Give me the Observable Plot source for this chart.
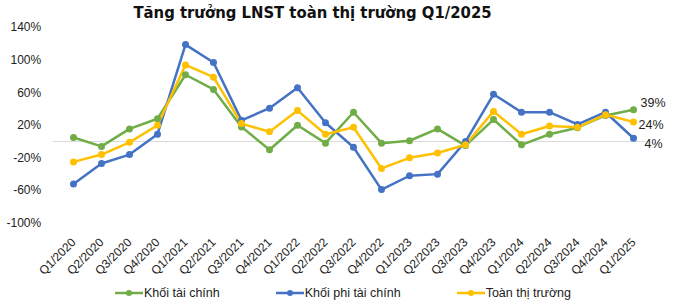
<!DOCTYPE html>
<html><head><meta charset="utf-8">
<script src="https://cdn.jsdelivr.net/npm/d3@7"></script>
<script src="https://cdn.jsdelivr.net/npm/@observablehq/plot@0.6"></script>
<style>
body{margin:0;background:#fff;}
#wrap{position:relative;width:680px;height:304px;overflow:hidden;font-family:"Liberation Sans",Arial,sans-serif;}
#chart{position:absolute;left:0;top:0;}
#title{position:absolute;left:0;top:0;width:625px;text-align:center;font-family:"DejaVu Sans Condensed","DejaVu Sans",sans-serif;font-weight:bold;font-size:16.5px;line-height:26px;color:#111;white-space:nowrap;}
#legend{position:absolute;top:284px;left:115px;display:flex;gap:56px;font-size:12.5px;line-height:18px;color:#222;}
#legend .item{display:flex;align-items:center;}
#legend svg{display:block;margin-right:1px;}
</style></head>
<body><div id="wrap"><div id="chart"></div><div id="title">Tăng trưởng LNST toàn thị trường Q1/2025</div><div id="legend"></div></div>
<script>
const quarters = ["Q1/2020","Q2/2020","Q3/2020","Q4/2020","Q1/2021","Q2/2021","Q3/2021","Q4/2021","Q1/2022","Q2/2022","Q3/2022","Q4/2022","Q1/2023","Q2/2023","Q3/2023","Q4/2023","Q1/2024","Q2/2024","Q3/2024","Q4/2024","Q1/2025"];
const seriesNames = ["Khối tài chính","Khối phi tài chính","Toàn thị trường"];
const seriesColors = ["#70AD47","#4472C4","#FFC000"];
const taiChinh = [5,-6,15.5,28,82,64,18,-10,20,-2,36,-2,1,15.5,-5,27,-4,9,17,32,39];
const phiTaiChinh = [-52,-27,-16,9,119,97,26,41,66,23,-7,-59,-42,-40,0,58,36,36,21,36,4];
const toanThiTruong = [-25,-16,-1,20,94,79,22,12,38,9,17.5,-33,-20,-14,-4,37,9,19,17.5,33,24];
const yTicks = [-100,-60,-20,20,60,100,140];

const seriesValues = [taiChinh, phiTaiChinh, toanThiTruong];
const rows = seriesNames.flatMap((name,i)=>quarters.map((q,j)=>({quarter:q, series:name, value:seriesValues[i][j]})));
const lastQ = quarters[quarters.length-1];
const lastOf = name => rows.filter(d=>d.quarter===lastQ && d.series===name);
const endLabel = (name, dx, dy) => Plot.text(lastOf(name), {x:"quarter", y:"value", text:d=>d.value+"%", textAnchor:"start", dx, dy, fontSize:12.5, fill:"#222", stroke:"white", strokeWidth:3, paintOrder:"stroke"});

const chart = Plot.plot({
  width:680, height:304,
  marginTop:27, marginBottom:81.5, marginLeft:52.7, marginRight:25.7,
  style:{fontFamily:"Liberation Sans, Arial, sans-serif", fontSize:"12px", color:"#222", background:"transparent"},
  x:{type:"point", domain:quarters, padding:0.5, axis:null},
  y:{domain:[-100,140], axis:null},
  color:{domain:seriesNames, range:seriesColors},
  marks:[
    Plot.ruleY([0], {stroke:"#d9d9d9", strokeWidth:1}),
    Plot.axisY({ticks:yTicks, tickFormat:d=>d+"%", tickSize:0, tickPadding:12, fontSize:12, label:null}),
    Plot.text(quarters, {x:d=>d, frameAnchor:"bottom", rotate:-45, textAnchor:"end", dx:3, dy:20, fontSize:12, fill:"#222"}),
    Plot.line(rows, {x:"quarter", y:"value", z:"series", stroke:"series", strokeWidth:2.5, strokeLinejoin:"round", strokeLinecap:"round"}),
    Plot.dot(rows, {x:"quarter", y:"value", fill:"series", r:3.5}),
    endLabel(seriesNames[0], 7, -7),
    endLabel(seriesNames[2], 5, 3),
    endLabel(seriesNames[1], 11, 6)
  ]
});
document.getElementById("chart").appendChild(chart);

const legend = document.getElementById("legend");
seriesNames.forEach((name,i)=>{
  const item = document.createElement("div");
  item.className = "item";
  item.innerHTML = `<svg width="28" height="10"><line x1="0" y1="5" x2="28" y2="5" stroke="${seriesColors[i]}" stroke-width="2.5"/><circle cx="14" cy="5" r="3" fill="${seriesColors[i]}"/></svg><span>${name}</span>`;
  legend.appendChild(item);
});
</script>
</body></html>
